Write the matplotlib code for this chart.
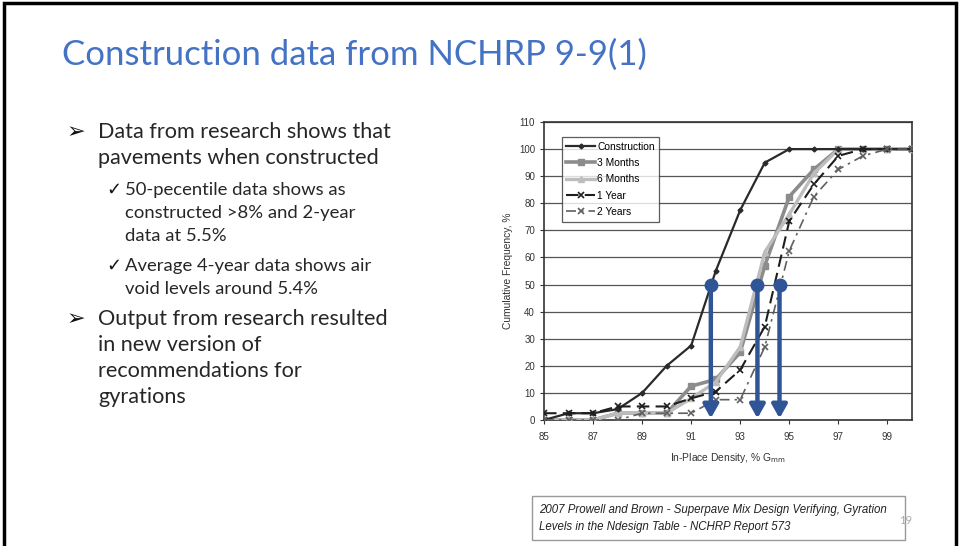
import matplotlib
matplotlib.use("Agg")
import matplotlib.pyplot as plt
from matplotlib.patches import Rectangle

# ---------------- data ----------------
density = [85, 86, 87, 88, 89, 90, 91, 92, 93, 94, 95, 96, 97, 98, 99, 100]
construction = [0, 2.5, 2.5, 4, 10, 20, 27.5, 55, 77.5, 95, 100, 100, 100, 100, 100, 100]
months3 = [0, 0, 0, 2.5, 2.5, 2.5, 12.5, 15, 25, 57, 82.5, 92.5, 100, 100, 100, 100]
months6 = [0, 0, 0, 2.5, 2.5, 2.5, 8, 14, 27, 62, 76, 91, 100, 100, 100, 100]
year1 = [2.5, 2.5, 2.5, 5, 5, 5, 8, 10.5, 18.5, 34.5, 73.5, 87, 97.5, 100, 100, 100]
year2 = [0, 0, 0, 0, 2.5, 2.5, 2.5, 7.5, 7.5, 27, 62.5, 82.5, 92.5, 97.5, 100, 100]
series_names = ["Construction", "3 Months", "6 Months", "1 Year", "2 Years"]
arrow_x = [91.8, 93.7, 94.6]
arrow_y = 50
x_ticks = [85, 87, 89, 91, 93, 95, 97, 99]
y_ticks = [0, 10, 20, 30, 40, 50, 60, 70, 80, 90, 100, 110]

title = "Construction data from NCHRP 9-9(1)"
bullets = [
    ("main", ["Data from research shows that", "pavements when constructed"]),
    ("sub", ["50-pecentile data shows as", "constructed >8% and 2-year", "data at 5.5%"]),
    ("sub", ["Average 4-year data shows air", "void levels around 5.4%"]),
    ("main", ["Output from research resulted", "in new version of", "recommendations for", "gyrations"]),
]
citation = ["2007 Prowell and Brown - Superpave Mix Design Verifying, Gyration",
            "Levels in the Ndesign Table - NCHRP Report 573"]
page_no = "19"

# ---------------- figure ----------------
W, H = 960, 546
fig = plt.figure(figsize=(W / 100, H / 100), dpi=100)
fig.patch.set_facecolor("white")

def fx(px):
    return px / W

def fy(py):
    return 1 - py / H

# slide border
fig.add_artist(Rectangle((fx(4), fy(560)), fx(952), 560 / H - 3 / H,
                         transform=fig.transFigure, fill=False,
                         edgecolor="black", linewidth=2.5))

# title
fig.text(fx(62), fy(55), title, fontsize=25, color="#4472C4",
         family=["Lato", "DejaVu Sans"], va="center", ha="left")

# bullets
txt_color = "#262626"
y = 132
for kind, lines in bullets:
    if kind == "main":
        fig.text(fx(67), fy(y), "\u27A2", fontsize=16, color="#111111",
                 family=["DejaVu Sans"], va="center", ha="left")
        for i, ln in enumerate(lines):
            fig.text(fx(98), fy(y + 26 * i), ln, fontsize=15.6, color=txt_color,
                     family=["Lato", "DejaVu Sans"], va="center", ha="left")
        y += 26 * (len(lines) - 1) + 32
    else:
        fig.text(fx(106), fy(y), "\u2713", fontsize=13, color="#111111",
                 family=["DejaVu Sans"], va="center", ha="left")
        for i, ln in enumerate(lines):
            fig.text(fx(125), fy(y + 23 * i), ln, fontsize=13.3, color=txt_color,
                     family=["Lato", "DejaVu Sans"], va="center", ha="left")
        y += 23 * (len(lines) - 1) + 30

# ---------------- chart ----------------
ax_l, ax_r, ax_t, ax_b = 544, 912, 122, 420
ax = fig.add_axes([fx(ax_l), fy(ax_b), fx(ax_r - ax_l), (ax_b - ax_t) / H])
ax.set_xlim(85, 100)
ax.set_ylim(0, 110)
ax.set_xticks(x_ticks)
ax.set_yticks(y_ticks)
ax.yaxis.grid(True, color="#555555", linewidth=0.9)
ax.set_axisbelow(True)
for s in ax.spines.values():
    s.set_color("#333333")
    s.set_linewidth(1.2)
ax.tick_params(axis="both", labelsize=7, length=3, color="#333333",
               labelcolor="#333333")
for lab in ax.get_xticklabels() + ax.get_yticklabels():
    lab.set_family("Liberation Sans")
ax.tick_params(axis="x", pad=6)

ax.plot(density, construction, color="#2a2a2a", lw=1.6, marker="D", ms=2.5,
        label=series_names[0], zorder=5)
ax.plot(density, months3, color="#8c8c8c", lw=2.6, marker="s", ms=5,
        label=series_names[1], zorder=3)
ax.plot(density, months6, color="#bdbdbd", lw=2.4, marker="^", ms=5,
        label=series_names[2], zorder=4)
ax.plot(density, year1, color="#1e1e1e", lw=1.5, ls=(0, (6, 3)), marker="x",
        ms=5, mew=1.2, label=series_names[3], zorder=6)
ax.plot(density, year2, color="#606060", lw=1.2, ls=(0, (6, 3, 1.5, 3)),
        marker="x", ms=5, mew=1.2, label=series_names[4], zorder=6)

ax.set_xlabel("In-Place Density, % G$_{\\rm mm}$", fontsize=7.4,
              family="Liberation Sans", color="#333333", labelpad=6)
ax.set_ylabel("Cumulative Frequency, %", fontsize=7.4,
              family="Liberation Sans", color="#333333", labelpad=4)

leg = ax.legend(loc="upper left", bbox_to_anchor=(0.048, 0.95),
                prop={"family": "Liberation Sans", "size": 7.4},
                frameon=True, fancybox=False, edgecolor="#333333",
                handlelength=2.8, handletextpad=0.2, labelspacing=0.62,
                borderpad=0.45, borderaxespad=0)
leg.get_frame().set_linewidth(0.9)

blue = "#2F5597"
for xa in arrow_x:
    ax.annotate("", xy=(xa, 0.6), xytext=(xa, arrow_y),
                arrowprops=dict(arrowstyle="-|>,head_length=0.8,head_width=0.45",
                                color=blue, lw=3.2, shrinkA=0, shrinkB=0),
                zorder=8)
ax.plot(arrow_x, [arrow_y] * len(arrow_x), "o", color=blue, ms=9, zorder=9)

# ---------------- citation ----------------
fig.add_artist(Rectangle((fx(532), fy(540)), fx(373), 44 / H,
                         transform=fig.transFigure, fill=False,
                         edgecolor="#999999", linewidth=1))
fig.text(fx(539), fy(510), citation[0], fontsize=8.3, style="italic",
         family="Liberation Sans", color="#222222", va="center", ha="left")
fig.text(fx(539), fy(527), citation[1], fontsize=8.3, style="italic",
         family="Liberation Sans", color="#222222", va="center", ha="left")
fig.text(fx(906), fy(521), page_no, fontsize=8, color="#aaaaaa",
         family="Lato", va="center", ha="center")

fig.savefig("out.png", dpi=100)
